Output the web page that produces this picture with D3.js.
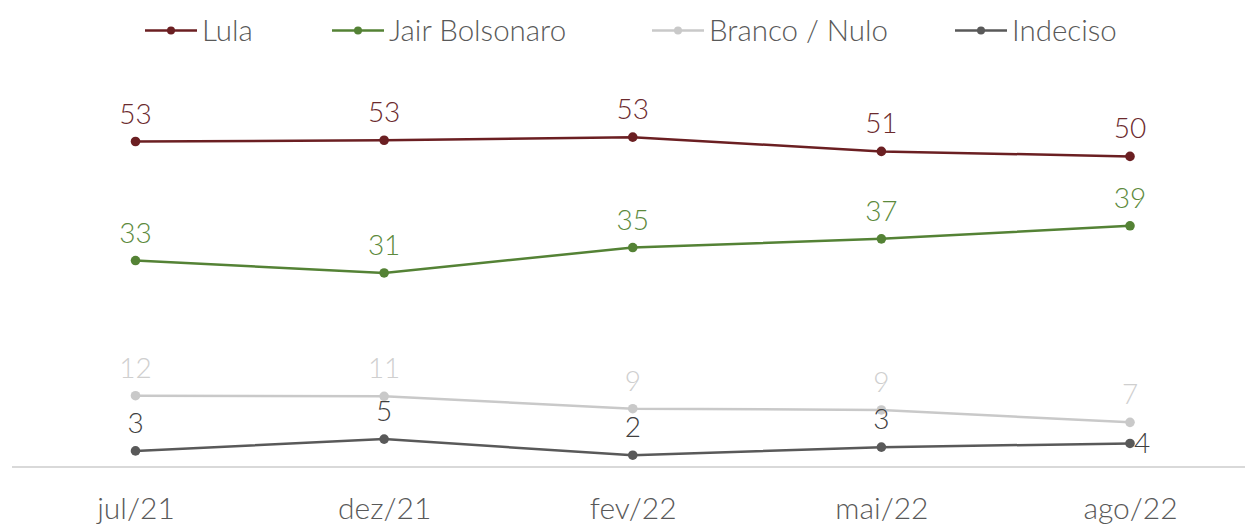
<!DOCTYPE html>
<html>
<head>
<meta charset="utf-8">
<script src="https://cdn.jsdelivr.net/npm/d3@7"></script>
<style>
  html, body { margin: 0; padding: 0; background: #fff; }
  svg text { font-family: Lato, "Open Sans", sans-serif; font-weight: 300; }
</style>
</head>
<body>
<div id="chart"></div>
<script>
// Voting intention series (percent)
const periods = ['jul/21', 'dez/21', 'fev/22', 'mai/22', 'ago/22'];
const lula = [52.5, 52.7, 53.2, 50.9, 50.1];
const bolsonaro = [33.3, 31.3, 35.4, 36.8, 38.9];
const brancoNulo = [11.5, 11.4, 9.4, 9.2, 7.2];
const indeciso = [2.6, 4.5, 1.9, 3.2, 3.8];

const seriesNames = ['Lula', 'Jair Bolsonaro', 'Branco / Nulo', 'Indeciso'];
const seriesValues = [lula, bolsonaro, brancoNulo, indeciso];
const lineColors = ['#6b1f22', '#548235', '#c9c9c9', '#595959'];
const labelColors = ['#6b2a2d', '#5c8a3c', '#cfcfcf', '#404040'];

const width = 1245;
const height = 525;

const svg = d3.select('#chart')
    .append('svg')
    .attr('width', width)
    .attr('height', height);

const x = d3.scalePoint()
    .domain(periods)
    .range([135.5, 1130]);

const y = d3.scaleLinear()
    .domain([0, 60])
    .range([467, 95]);

// baseline
svg.append('line')
    .attr('x1', 12)
    .attr('x2', width)
    .attr('y1', y(0))
    .attr('y2', y(0))
    .attr('stroke', '#d9d9d9')
    .attr('stroke-width', 2);

// x axis labels
const xAxis = svg.append('g')
    .attr('transform', 'translate(0, 519)')
    .call(d3.axisBottom(x).tickSize(0).tickPadding(0));
xAxis.select('.domain').remove();
xAxis.selectAll('text')
    .attr('dy', 0)
    .style('font-size', '30px')
    .style('font-family', 'Lato, sans-serif')
    .style('fill', '#595959');

const line = d3.line()
    .x((d, i) => x(periods[i]))
    .y(d => y(d));

seriesValues.forEach((vals, s) => {
    const g = svg.append('g').attr('class', 'series');
    const last = vals.length - 1;

    g.append('path')
        .datum(vals)
        .attr('d', line)
        .attr('fill', 'none')
        .attr('stroke', lineColors[s])
        .attr('stroke-width', 2.5);

    g.selectAll('circle')
        .data(vals)
        .enter()
        .append('circle')
        .attr('cx', (d, i) => x(periods[i]))
        .attr('cy', d => y(d))
        .attr('r', 4.8)
        .attr('fill', lineColors[s]);

    // last Indeciso label sits to the right of its point
    const onRight = i => s === 3 && i === last;

    g.selectAll('text')
        .data(vals)
        .enter()
        .append('text')
        .attr('x', (d, i) => onRight(i) ? x(periods[i]) + 4 : x(periods[i]))
        .attr('y', (d, i) => onRight(i) ? y(d) : y(d) - 18)
        .attr('dy', (d, i) => onRight(i) ? '0.35em' : 0)
        .attr('text-anchor', (d, i) => onRight(i) ? 'start' : 'middle')
        .style('font-size', '28px')
        .style('fill', labelColors[s])
        .text(d => Math.round(d));
});

// legend
const legendX = [145, 332, 652, 955];
const legend = svg.append('g').attr('class', 'legend');

seriesNames.forEach((name, i) => {
    const row = legend.append('g')
        .attr('transform', `translate(${legendX[i]}, 30.5)`);

    row.append('line')
        .attr('x1', 0)
        .attr('x2', 52)
        .attr('stroke', lineColors[i])
        .attr('stroke-width', 2.5);

    row.append('circle')
        .attr('cx', 26)
        .attr('r', 4)
        .attr('fill', lineColors[i]);

    row.append('text')
        .attr('x', 57)
        .attr('dy', '0.36em')
        .style('font-size', '29.5px')
        .style('fill', '#595959')
        .text(name);
});
</script>
</body>
</html>
